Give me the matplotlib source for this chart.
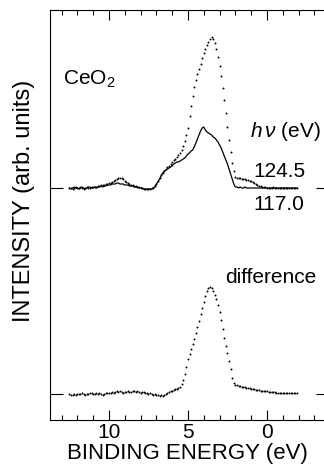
import matplotlib as mpl
mpl.use("Agg")
import matplotlib.pyplot as plt
import numpy as np

plt.rcParams["font.family"] = "Liberation Sans"
plt.rcParams["mathtext.fontset"] = "custom"
plt.rcParams["mathtext.rm"] = "Liberation Sans"
plt.rcParams["mathtext.it"] = "Liberation Sans:italic"

# binding energy grid, 12.5 eV down to -1.9 eV in 0.1 eV steps
energy = np.linspace(12.5, -1.9, 145)

# hv = 117.0 eV (solid)
i117 = [0, -1, 0, 1, 0, 0, -1, 0, 1, 0, -1, 0, 1, 1, 0, 0,
        1, 0, 1, 1, 2, 1, 2, 2, 3, 3,
        3, 4, 4, 4, 5, 5, 4, 4, 4, 3,
        3, 3, 2, 2, 2, 1, 1, 1, 0, 0,
        0, -1, -1, -1, -1, -1, -1, 0, 1, 4,
        6, 9, 12, 15, 17, 18, 19, 20, 21, 22,
        24, 25, 26, 26, 27, 28, 29, 30, 32, 34,
        35, 37, 38, 41, 45, 49, 53, 57, 60, 61,
        58, 56, 55, 54, 53, 51, 50, 48, 46, 43,
        40, 36, 32, 28, 24, 19, 14, 9, 4, 1,
        1, 0, 1, 0, 0, 1, 0, 0, 0, 0,
        0, 0, 0, 0, 0, 0, 0, 0, 0, 0,
        0, 0, 0, 0, 0, 0, 0, 0, 0, 0,
        0, 0, 0, 0, 0, 0, 0, 0, 0]

# hv = 124.5 eV (dotted)
i124 = [0, 0, -1, 0, 1, 0, 0, 1, 0, -1, 0, 1, 0, 0, 1, 1,
        1, 1, 2, 2, 3, 3, 3, 4, 4, 5,
        5, 6, 7, 8, 9, 10, 10, 10, 9, 7,
        6, 5, 4, 3, 3, 2, 2, 1, 1, 0,
        0, -1, -1, -1, -1, -1, 0, 0, 2, 4,
        7, 10, 13, 15, 17, 19, 21, 22, 24, 26,
        28, 29, 31, 33, 35, 38, 42, 47, 53, 60,
        72, 82, 92, 101, 108, 114, 119, 124, 130, 135,
        139, 143, 146, 149, 151, 149, 145, 139, 131, 122,
        112, 100, 88, 75, 61, 48, 36, 25, 17, 11,
        10, 10, 10, 9, 9, 9, 8, 8, 7, 7,
        6, 5, 4, 3, 2, 2, 1, 1, 1, 0,
        0, 0, 0, 1, 0, 0, 0, 0, 0, 0,
        0, 0, 0, 0, 0, 0, 0, 0, 0]

# difference spectrum
diff = [0, -1, -1, 0, -1, 0, 0, 0, 1, 0, -1, 0, 0, 1, 1, 0,
        0, 1, 0, 1, 0, -1, 0, 1, 1, 1,
        1, 2, 1, 2, 3, 2, 3, 2, 1, 2,
        2, 3, 2, 2, 3, 3, 2, 3, 2, 1,
        2, 2, 1, 1, 0, 1, 0, -1, 0, -1,
        -1, -2, -1, -2, -1, 0, 1, 2, 3, 3,
        4, 5, 5, 6, 7, 10, 14, 20, 27, 35,
        40, 45, 50, 55, 61, 67, 73, 80, 86, 92,
        98, 103, 106, 107, 106, 103, 99, 95, 89, 82,
        74, 65, 56, 48, 41, 33, 25, 16, 11, 9,
        9, 8, 8, 7, 7, 7, 6, 6, 6, 5,
        5, 5, 4, 4, 4, 3, 3, 3, 3, 3,
        2, 2, 2, 2, 2, 1, 1, 1, 1, 1,
        1, 1, 1, 1, 1, 1, 1, 1, 1]

offset = 206

fig = plt.figure(figsize=(3.24, 4.67), dpi=100)
ax = fig.add_axes([50 / 324, 47 / 467, 274 / 324, 410 / 467])

ax.plot(energy, np.array(i117) + offset, color="k", lw=0.9)
ax.plot(energy, np.array(i124) + offset, "o", color="k", ms=1.4, mew=0)
ax.plot(energy, diff, "o", color="k", ms=1.4, mew=0)

ax.set_xlim(13.73, -3.61)
ax.set_ylim(-26, 384)

for s in ax.spines.values():
    s.set_linewidth(0.8)
ax.spines["right"].set_visible(False)

ax.set_xticks([10, 5, 0])
ax.set_xticks(np.arange(-3, 14), minor=True)
ax.tick_params(axis="x", which="major", direction="in", length=7, width=0.8,
               top=True, labelsize=15, pad=2)
ax.tick_params(axis="x", which="minor", direction="in", length=3.5, width=0.8, top=True)

ax.set_yticks([0, offset])
ax.set_yticklabels([])
ax.tick_params(axis="y", direction="in", width=0.8, left=True, right=True)
for t in ax.yaxis.get_major_ticks():
    t.tick1line.set_markersize(9)
    t.tick2line.set_markersize(6)

ax.set_xlabel("BINDING ENERGY (eV)", fontsize=16, labelpad=1)
ax.set_ylabel("INTENSITY (arb. units)", fontsize=17)
ax.yaxis.set_label_coords(-0.055, 0.535)

ax.text(0.047, 0.817, "CeO$_2$", transform=ax.transAxes, fontsize=15, va="baseline")
ax.text(0.730, 0.690, r"$h\,\nu$ (eV)", transform=ax.transAxes, fontsize=15, va="baseline")
ax.text(0.741, 0.593, "124.5", transform=ax.transAxes, fontsize=15, va="baseline")
ax.text(0.741, 0.512, "117.0", transform=ax.transAxes, fontsize=15, va="baseline")
ax.text(0.639, 0.334, "difference", transform=ax.transAxes, fontsize=15, va="baseline")

fig.savefig("out.png", dpi=100)
